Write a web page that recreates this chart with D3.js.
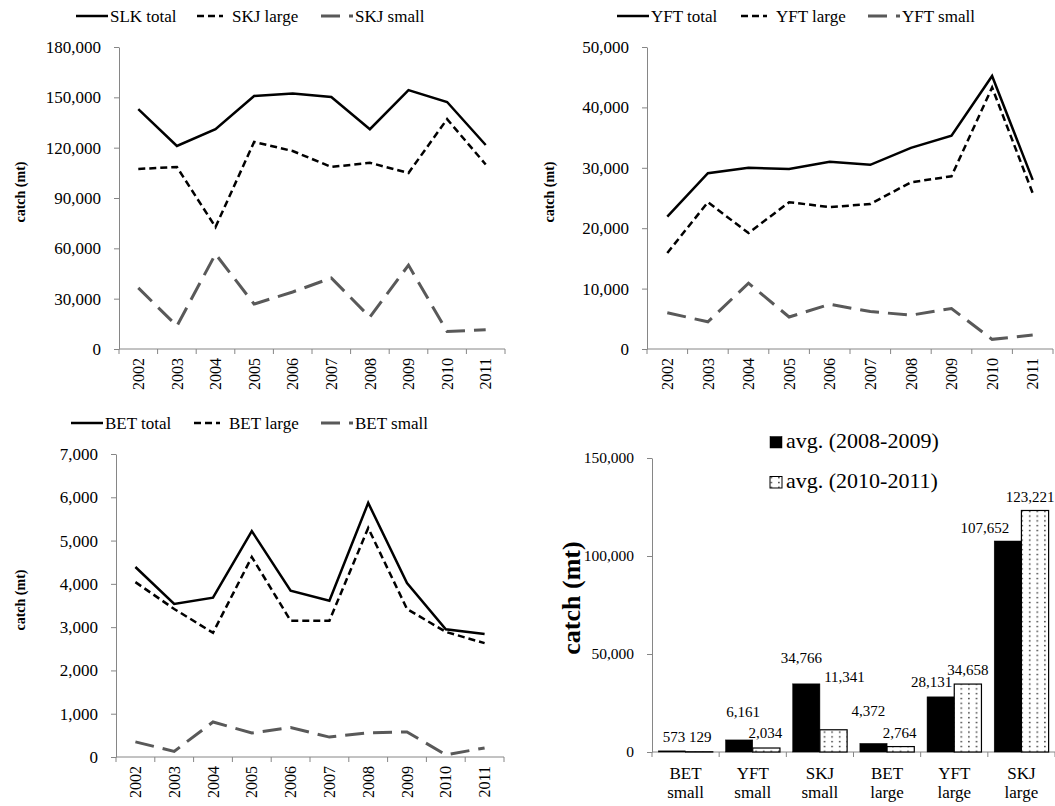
<!DOCTYPE html>
<html><head><meta charset="utf-8">
<script src="https://cdn.jsdelivr.net/npm/d3@7"></script>
<style>
body{margin:0;background:#fff}
svg text{font-family:"Liberation Serif","Times New Roman",serif;fill:#000}
</style>
</head><body>
<svg id="c" width="1055" height="806"></svg>
<script>
// ---------- data ----------
const years = ["2002","2003","2004","2005","2006","2007","2008","2009","2010","2011"];

const skjTotal = [143000,121000,131000,150800,152300,150200,131000,154300,147200,121600];
const skjLarge = [107300,108500,72700,123400,118000,108500,111000,104900,137000,110000];
const skjSmall = [36400,13700,56600,26800,34000,42300,19000,50000,10400,11500];

const yftTotal = [21900,29100,30000,29800,31000,30500,33300,35300,45200,28000];
const yftLarge = [15900,24300,19200,24300,23500,24000,27600,28600,43300,25800];
const yftSmall = [6000,4500,10900,5300,7400,6200,5600,6700,1600,2300];

const betTotal = [4390,3535,3680,5220,3840,3610,5870,4020,2950,2840];
const betLarge = [4040,3420,2870,4620,3150,3150,5290,3420,2890,2630];
const betSmall = [350,130,810,555,680,460,560,580,50,210];

const skjNames = ["SLK total","SKJ large","SKJ small"];
const yftNames = ["YFT total","YFT large","YFT small"];
const betNames = ["BET total","BET large","BET small"];

const barCats = [["BET","small"],["YFT","small"],["SKJ","small"],["BET","large"],["YFT","large"],["SKJ","large"]];
const avg0809 = [573,6161,34766,4372,28131,107652];
const avg1011 = [129,2034,11341,2764,34658,123221];
const barSeriesNames = ["avg. (2008-2009)","avg. (2010-2011)"];
const barTicks = [0,50000,100000,150000];

// label nudges (dx, dy) relative to default label position
const nudge0809 = [[2,-3],[4,-17],[-5,-15],[-5,-21],[-9,-4],[-23,-2]];
const nudge1011 = [[1,-4],[-1,-4],[11,-42],[-1,-3],[0,-3],[-5,-2]];

// ---------- styles ----------
const FONT = '"Liberation Serif", "Times New Roman", serif';
const AXIS = "#868686";
const styles = [
  {stroke:"#000", width:2.5, dash:null, sample:32, gap:2},
  {stroke:"#000", width:2.5, dash:"7,4", sample:26, gap:9},
  {stroke:"#595959", width:3, dash:"19,9", sample:32, gap:2}
];

const svg = d3.select("#c").style("font-family",FONT);
const defs = svg.append("defs");
const pat = defs.append("pattern").attr("id","dots").attr("patternUnits","userSpaceOnUse")
  .attr("width",7.6).attr("height",4.8);
pat.append("rect").attr("width",7.6).attr("height",4.8).attr("fill","#fff");
pat.append("rect").attr("x",3).attr("y",1.8).attr("width",1.4).attr("height",1.4).attr("fill","#222");

function styleAxis(g, fs){
  g.attr("font-family",FONT).attr("font-size",fs);
  g.select(".domain").attr("stroke",AXIS);
  g.selectAll(".tick line").attr("stroke",AXIS);
  g.selectAll(".tick text").attr("fill","#000");
}

function linePanel(o){
  const x = d3.scaleBand().domain(years).range([o.x0,o.x1]);
  const y = d3.scaleLinear().domain([0,o.max]).range([o.yB,o.yT]);
  const bw = x.bandwidth();
  const g = svg.append("g");

  const ya = g.append("g").attr("transform",`translate(${o.x0},0)`)
    .call(d3.axisLeft(y).tickValues(d3.range(0,o.max+1,o.step)).tickSize(5).tickSizeOuter(0)
      .tickPadding(13).tickFormat(d3.format(",")));
  styleAxis(ya,17);

  g.append("line").attr("x1",o.x0).attr("x2",o.x1).attr("y1",o.yB).attr("y2",o.yB).attr("stroke",AXIS);
  const bounds = years.map(d=>x(d)).concat([x(years[years.length-1])+bw]);
  g.selectAll(".xt").data(bounds).join("line")
    .attr("x1",d=>d).attr("x2",d=>d).attr("y1",o.yB).attr("y2",o.yB+5).attr("stroke",AXIS);
  g.selectAll(".yl").data(years).join("text")
    .attr("transform",d=>`translate(${x(d)+bw/2},${o.yB+9}) rotate(-90)`)
    .attr("text-anchor","end").attr("dy","0.35em").attr("font-size",16).text(d=>d);

  g.append("text").attr("transform",`translate(${o.titleX},${o.titleY}) rotate(-90)`)
    .attr("text-anchor","middle").attr("dy","0.35em").attr("font-size",14).attr("font-weight","bold")
    .text("catch (mt)");

  const line = d3.line().x((d,i)=>x(years[i])+bw/2).y(d=>y(d));
  o.series.forEach((s,i)=>{
    const st = styles[i];
    g.append("path").datum(s).attr("d",line).attr("fill","none")
      .attr("stroke",st.stroke).attr("stroke-width",st.width)
      .attr("stroke-dasharray",st.dash).attr("stroke-linejoin","miter");
  });

  o.names.forEach((n,i)=>{
    const st = styles[i];
    const lx = o.legX[i];
    g.append("line").attr("x1",lx).attr("x2",lx+st.sample).attr("y1",o.legY).attr("y2",o.legY)
      .attr("stroke",st.stroke).attr("stroke-width",st.width).attr("stroke-dasharray",st.dash);
    g.append("text").attr("x",lx+st.sample+st.gap).attr("y",o.legY+6).attr("font-size",17).text(n);
  });
}

linePanel({x0:119,x1:505,yT:47,yB:349,max:180000,step:30000,
  series:[skjTotal,skjLarge,skjSmall],names:skjNames,legX:[76,197,321],legY:16,titleX:20,titleY:192});
linePanel({x0:647,x1:1053,yT:47,yB:349,max:50000,step:10000,
  series:[yftTotal,yftLarge,yftSmall],names:yftNames,legX:[617,741,868],legY:16,titleX:549,titleY:192});
linePanel({x0:116,x1:504,yT:454,yB:757,max:7000,step:1000,
  series:[betTotal,betLarge,betSmall],names:betNames,legX:[71,194,321],legY:423,titleX:20,titleY:600});

// ---------- bar panel ----------
(function(){
  const X0=652, X1=1055, YT=458, YB=752;
  const catKeys = barCats.map(c=>c.join(" "));
  const x0 = d3.scaleBand().domain(catKeys).range([X0,X1]);
  const bw = x0.bandwidth();
  const x1 = d3.scaleBand().domain([0,1]).range([bw*0.095, bw*0.905]);
  const y = d3.scaleLinear().domain([0,150000]).range([YB,YT]);
  const g = svg.append("g");

  const ya = g.append("g").attr("transform",`translate(${X0},0)`)
    .call(d3.axisLeft(y).tickValues(barTicks).tickSize(5).tickSizeOuter(0).tickPadding(13).tickFormat(d3.format(",")));
  styleAxis(ya,15.5);

  g.append("line").attr("x1",X0).attr("x2",X1).attr("y1",YB).attr("y2",YB).attr("stroke",AXIS);
  const bounds = catKeys.map(d=>x0(d)).concat([x0(catKeys[catKeys.length-1])+bw]);
  g.selectAll(".xt").data(bounds).join("line")
    .attr("x1",d=>d).attr("x2",d=>d).attr("y1",YB).attr("y2",YB+5).attr("stroke",AXIS);
  barCats.forEach((c,i)=>{
    const cx = x0(catKeys[i])+bw/2;
    const t = g.append("text").attr("x",cx).attr("y",YB+27)
      .attr("text-anchor","middle").attr("font-size",17);
    t.append("tspan").attr("x",cx).text(c[0]);
    t.append("tspan").attr("x",cx).attr("dy",18.5).text(c[1]);
  });

  g.append("text").attr("transform",`translate(571,598) rotate(-90)`)
    .attr("text-anchor","middle").attr("dy","0.35em").attr("font-size",26).attr("font-weight","bold")
    .text("catch (mt)");

  const sets = [avg0809, avg1011];
  const nudges = [nudge0809, nudge1011];
  sets.forEach((vals,si)=>{
    g.selectAll(".b"+si).data(vals).join("rect")
      .attr("x",(d,i)=>x0(catKeys[i])+x1(si))
      .attr("y",d=>y(d)).attr("width",x1.bandwidth()).attr("height",d=>YB-y(d))
      .attr("fill",si===0?"#000":"url(#dots)")
      .attr("stroke","#000").attr("stroke-width",si===0?0.5:1.2);
    g.selectAll(".l"+si).data(vals).join("text")
      .attr("x",(d,i)=>x0(catKeys[i])+x1(si)+x1.bandwidth()/2+nudges[si][i][0])
      .attr("y",(d,i)=>y(d)-6+nudges[si][i][1])
      .attr("text-anchor","middle").attr("font-size",15).text(d=>d3.format(",")(d));
  });

  barSeriesNames.forEach((n,i)=>{
    const ly = 448 + i*40;
    g.append("rect").attr("x",770).attr("y",ly-11.5).attr("width",12).attr("height",11.5)
      .attr("fill",i===0?"#000":"url(#dots)").attr("stroke","#000").attr("stroke-width",i===0?0.5:1);
    g.append("text").attr("x",786).attr("y",ly).attr("font-size",22).text(n);
  });
})();

svg.selectAll("text").attr("font-family",FONT).style("font-family",FONT).attr("fill","#000");
</script>
</body></html>
